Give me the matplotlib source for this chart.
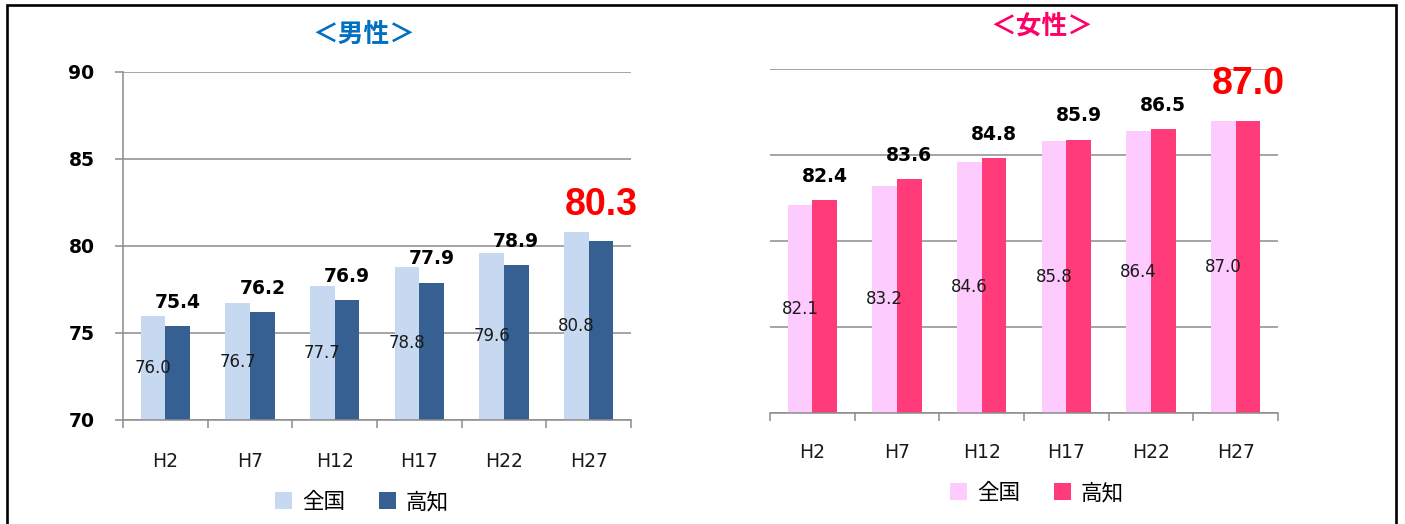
import matplotlib
matplotlib.use("Agg")
import matplotlib.pyplot as plt
from matplotlib.patches import Rectangle, Patch

plt.rcParams['font.family'] = ['DejaVu Sans']
CJK = ['Noto Sans CJK JP', 'DejaVu Sans']

# 平均寿命の推移（全国・高知）
years = ['H2', 'H7', 'H12', 'H17', 'H22', 'H27']
series_names = ['全国', '高知']
male_national = [76.0, 76.7, 77.7, 78.8, 79.6, 80.8]
male_kochi = [75.4, 76.2, 76.9, 77.9, 78.9, 80.3]
female_national = [82.1, 83.2, 84.6, 85.8, 86.4, 87.0]
female_kochi = [82.4, 83.6, 84.8, 85.9, 86.5, 87.0]
y_ticks = [70, 75, 80, 85, 90]

W, H = 1405, 524
fig = plt.figure(figsize=(W / 100, H / 100), dpi=100)
fig.patch.set_facecolor('white')


def fx(px):
    return px / W


def fy(py):
    return 1 - py / H


GRID = '#8c8c8c'


def draw_panel(rect, national, kochi, c_nat, c_koc, show_y, xpad):
    ax = fig.add_axes(rect)
    n = len(years)
    x = list(range(n))
    bw = 0.29
    ax.bar([i - bw / 2 for i in x], [v - 70 for v in national], bw, bottom=70,
           color=c_nat, zorder=3, linewidth=0)
    ax.bar([i + bw / 2 for i in x], [v - 70 for v in kochi], bw, bottom=70,
           color=c_koc, zorder=3, linewidth=0)
    ax.set_xlim(-0.5, n - 0.5)
    ax.set_ylim(70, 90)
    ax.set_yticks(y_ticks)
    ax.yaxis.grid(True, color=GRID, linewidth=1.1, zorder=1)
    for s in ['top', 'right']:
        ax.spines[s].set_visible(False)
    ax.spines['bottom'].set_color(GRID)
    ax.spines['bottom'].set_linewidth(1.1)
    ax.spines['bottom'].set_zorder(4)
    if show_y:
        ax.spines['left'].set_color(GRID)
        ax.spines['left'].set_linewidth(1.1)
        ax.tick_params(axis='y', length=5.5, width=1.1, color=GRID, pad=15,
                       labelsize=13.5, labelcolor='black')
        for t in ax.get_yticklabels():
            t.set_fontweight('bold')
    else:
        ax.spines['left'].set_visible(False)
        ax.tick_params(axis='y', length=0, labelleft=False)
    # category boundaries as tick marks, names centred between them
    ax.set_xticks([i - 0.5 for i in range(n + 1)])
    ax.set_xticklabels([])
    ax.set_xticks(x, minor=True)
    ax.set_xticklabels(years, minor=True)
    ax.tick_params(axis='x', which='major', length=5.5, width=1.1, color=GRID)
    ax.tick_params(axis='x', which='minor', length=0, pad=xpad, labelsize=13.5,
                   labelcolor='#1a1a1a')
    # values inside the national bars
    for i, v in enumerate(national):
        ax.text(i - bw / 2, (70 + v) / 2, f'{v:.1f}', ha='center', va='center',
                fontsize=12, color='#1a1a1a', zorder=5)
    # Kochi values above its bars, latest year highlighted
    for i, v in enumerate(kochi):
        if i == n - 1:
            ax.annotate(f'{v:.1f}', (i + bw / 2, v), xytext=(0, 26),
                        textcoords='offset points', ha='center', va='center',
                        fontsize=27, fontweight='bold', color='#ff0000',
                        family='Liberation Sans', zorder=5)
        else:
            ax.annotate(f'{v:.1f}', (i + bw / 2, v), xytext=(0, 17),
                        textcoords='offset points', ha='center', va='center',
                        fontsize=13.5, fontweight='bold', color='black', zorder=5)
    return ax


male_ax = draw_panel([fx(123), fy(420), fx(631 - 123), (420 - 72) / H],
                     male_national, male_kochi, '#c6d9f1', '#376092', True, 23)
female_ax = draw_panel([fx(770), fy(413), fx(1278 - 770), (413 - 69) / H],
                       female_national, female_kochi, '#fdcbfd', '#ff3b7a', False, 21.5)

fig.text(fx(364), fy(34), '＜男性＞', ha='center', va='center', fontsize=18.5,
         fontweight='bold', color='#0070c0', family=CJK)
fig.text(fx(1042), fy(26), '＜女性＞', ha='center', va='center', fontsize=18.5,
         fontweight='bold', color='#ff0066', family=CJK)


def add_legend(ax, c_nat, c_koc, cx, cy):
    handles = [Patch(facecolor=c_nat, edgecolor='none'),
               Patch(facecolor=c_koc, edgecolor='none')]
    ax.legend(handles, series_names, loc='center', bbox_to_anchor=(fx(cx), fy(cy)),
              bbox_transform=fig.transFigure, ncol=2, frameon=False,
              prop={'family': CJK, 'size': 15.5}, handlelength=0.78, handleheight=0.78,
              handletextpad=0.45, columnspacing=1.6, borderaxespad=0)


add_legend(male_ax, '#c6d9f1', '#376092', 362, 502)
add_legend(female_ax, '#fdcbfd', '#ff3b7a', 1037, 493)

# outer frame
fig.patches.append(Rectangle((fx(7), -0.05), fx(1396 - 7), 0.05 + fy(5),
                             transform=fig.transFigure, fill=False,
                             edgecolor='black', linewidth=1.9, clip_on=False))

fig.savefig('out.png', dpi=100)
